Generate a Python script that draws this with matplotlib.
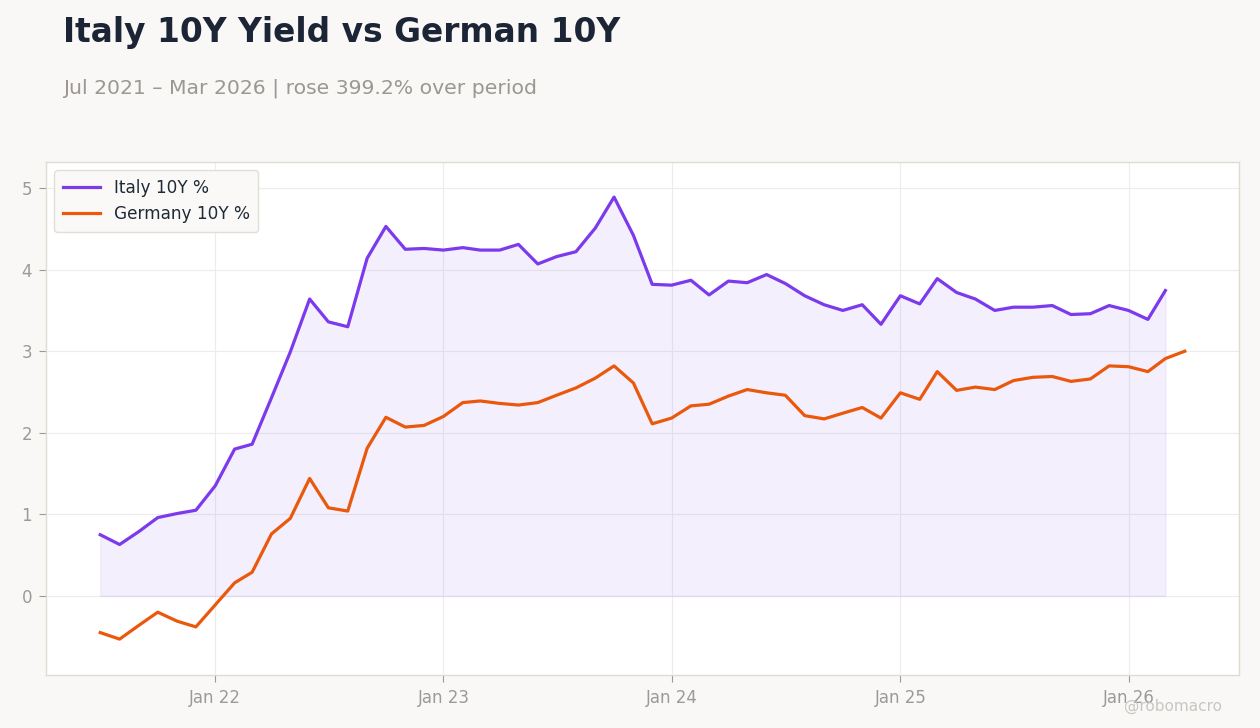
import matplotlib
matplotlib.use("Agg")
import matplotlib.pyplot as plt
import matplotlib.dates as mdates
import pandas as pd

# monthly yields, Jul 2021 onwards
italy_start = "2021-07-01"
italy_10y = [
    0.75, 0.63, 0.79, 0.96, 1.01, 1.05,              # 2021 H2
    1.35, 1.80, 1.86, 2.43, 2.99, 3.64, 3.36, 3.30, 4.14, 4.53, 4.25, 4.26,  # 2022
    4.24, 4.27, 4.24, 4.24, 4.31, 4.07, 4.16, 4.22, 4.51, 4.89, 4.42, 3.82,  # 2023
    3.81, 3.87, 3.69, 3.86, 3.84, 3.94, 3.83, 3.68, 3.57, 3.50, 3.57, 3.33,  # 2024
    3.68, 3.58, 3.89, 3.72, 3.64, 3.50, 3.54, 3.54, 3.56, 3.45, 3.46, 3.56,  # 2025
    3.50, 3.39, 3.744,                                # 2026
]
germany_10y = [
    -0.45, -0.53, -0.36, -0.20, -0.31, -0.38,
    -0.11, 0.16, 0.29, 0.76, 0.95, 1.44, 1.08, 1.04, 1.81, 2.19, 2.07, 2.09,
    2.20, 2.37, 2.39, 2.36, 2.34, 2.37, 2.46, 2.55, 2.67, 2.82, 2.61, 2.11,
    2.18, 2.33, 2.35, 2.45, 2.53, 2.49, 2.46, 2.21, 2.17, 2.24, 2.31, 2.18,
    2.49, 2.41, 2.75, 2.52, 2.56, 2.53, 2.64, 2.68, 2.69, 2.63, 2.66, 2.82,
    2.81, 2.75, 2.91, 3.00,
]
watermark = "@robomacro"

italy_dates = pd.date_range(italy_start, periods=len(italy_10y), freq="MS")
germany_dates = pd.date_range(italy_start, periods=len(germany_10y), freq="MS")

ITALY_COLOR = "#7c3aed"
GERMANY_COLOR = "#ea580c"
BG = "#f9f8f6"

fig = plt.figure(figsize=(12.6, 7.28), dpi=100, facecolor=BG)
ax = fig.add_axes([46 / 1260, 53 / 728, 1193 / 1260, 513 / 728])
ax.set_facecolor("white")

ax.fill_between(italy_dates, italy_10y, 0, color=ITALY_COLOR, alpha=0.08, linewidth=1)
ax.plot(italy_dates, italy_10y, color=ITALY_COLOR, linewidth=2.3, label="Italy 10Y %")
ax.plot(germany_dates, germany_10y, color=GERMANY_COLOR, linewidth=2.3, label="Germany 10Y %")

ax.set_ylim(-0.97, 5.32)
ax.set_yticks([0, 1, 2, 3, 4, 5])
ax.xaxis.set_major_locator(mdates.YearLocator())
ax.xaxis.set_major_formatter(mdates.DateFormatter("%b %y"))

ax.grid(True, color="#ececec", linewidth=0.8)
ax.set_axisbelow(True)
for s in ax.spines.values():
    s.set_color("#e0dbd3")
    s.set_linewidth(1)
ax.tick_params(colors="#9a9a9a", labelsize=12, length=5, width=0.8, pad=5)
for lab in ax.get_xticklabels() + ax.get_yticklabels():
    lab.set_color("#9a9a9a")

leg = ax.legend(loc="upper left", fontsize=12.2, frameon=True, facecolor="#faf9f7",
                edgecolor="#e2ddd6", framealpha=1, borderpad=0.5, handlelength=2.2)
for t in leg.get_texts():
    t.set_color("#1f2937")

fig.text(63 / 1260, 1 - 42 / 728, "Italy 10Y Yield vs German 10Y", fontsize=23.7,
         fontweight="bold", color="#1c2536", ha="left", va="baseline")
fig.text(63 / 1260, 1 - 93 / 728, "Jul 2021 – Mar 2026 | rose 399.2% over period",
         fontsize=14.7, color="#9b9893", ha="left", va="baseline")
fig.text(1222 / 1260, 1 - 711 / 728, watermark, fontsize=11, color="#c9c6c1",
         ha="right", va="baseline")

fig.savefig("out.png", dpi=100, facecolor=BG)
